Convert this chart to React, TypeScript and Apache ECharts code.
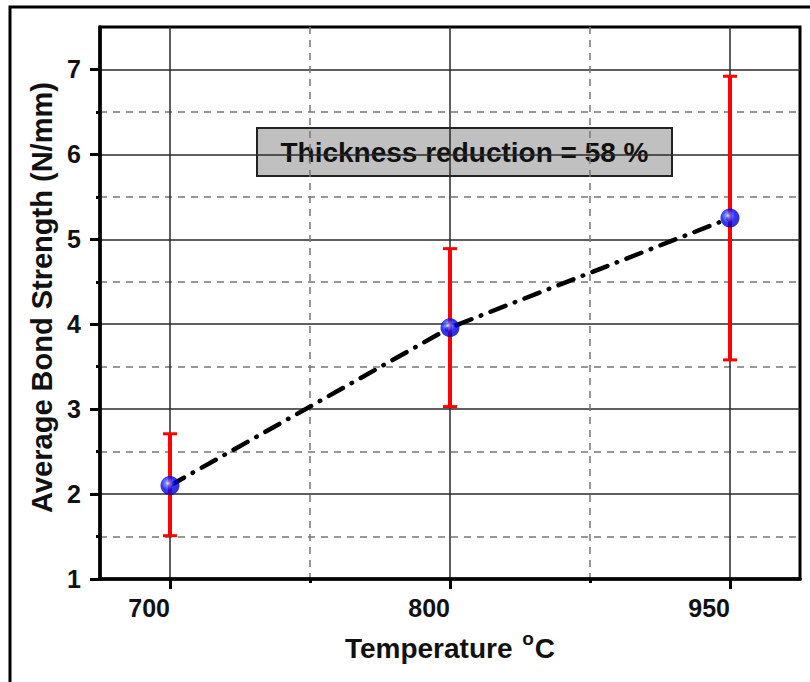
import React, { useEffect, useRef } from 'react';
import * as echarts from 'echarts';

const categories = ['700', '800', '950'];
const xPositions = [0, 1, 2];
const xMinorPositions = [0.5, 1.5];
const meanStrength = [2.1, 3.96, 5.25];
const upperStrength = [2.71, 4.89, 6.92];
const lowerStrength = [1.51, 3.03, 3.58];
const yMajorTicks = [1, 2, 3, 4, 5, 6, 7];
const yMinorTicks = [1.5, 2.5, 3.5, 4.5, 5.5, 6.5];
const annotationText = 'Thickness reduction = 58 %';
const xTitle = 'Temperature {sup|o}C';
const yTitle = 'Average Bond Strength (N/mm)';

const FONT = '"Liberation Sans", Arial, sans-serif';

export default function App() {
  const ref = useRef<HTMLDivElement>(null);

  useEffect(() => {
    if (!ref.current) return;
    const chart = echarts.init(ref.current, null, { renderer: 'svg' });

    const gridRect = { left: 100, right: 10, top: 27, bottom: 103 };
    const majorLine = { color: '#2a2a2a', width: 1.5, type: 'solid' as const };
    const minorLine = { color: '#777', width: 1.5, type: [7, 6] as any };

    const option: any = {
      animation: false,
      backgroundColor: '#fff',
      grid: [
        { ...gridRect, show: true, borderColor: '#000', borderWidth: 3, backgroundColor: 'transparent' },
        { ...gridRect, show: false },
      ],
      xAxis: [
        {
          gridIndex: 0,
          type: 'value',
          min: -0.25,
          max: 2.25,
          position: 'bottom',
          axisLine: { show: true, onZero: false, lineStyle: { color: '#000', width: 3.5 } },
          axisTick: { show: true, customValues: xPositions, length: 10, lineStyle: { color: '#000', width: 3 } },
          axisLabel: {
            show: true,
            formatter: (v: number) => {
              const i = xPositions.indexOf(v);
              return i >= 0 ? categories[i] : '';
            },
            showMinLabel: true,
            showMaxLabel: true,
            hideOverlap: false,
            align: 'right',
            margin: 16,
            fontSize: 25,
            fontWeight: 'bold',
            fontFamily: FONT,
            color: '#111',
          },
          splitLine: { show: true, lineStyle: majorLine },
          name: xTitle,
          nameLocation: 'middle',
          nameGap: 50,
          nameTextStyle: {
            fontSize: 28,
            fontWeight: 'bold',
            fontFamily: FONT,
            color: '#111',
            rich: {
              sup: { fontSize: 19, fontWeight: 'bold', fontFamily: FONT, color: '#111', verticalAlign: 'top', padding: [0, 1, 20, 2] },
            },
          },
        },
        {
          gridIndex: 1,
          type: 'value',
          min: -0.25,
          max: 2.25,
          position: 'bottom',
          axisLine: { show: false, onZero: false },
          axisTick: { show: true, customValues: xMinorPositions, length: 4, lineStyle: { color: '#000', width: 3 } },
          axisLabel: { show: false },
          splitLine: { show: true, lineStyle: minorLine },
        },
      ],
      yAxis: [
        {
          gridIndex: 0,
          type: 'value',
          min: 1,
          max: 7.5,
          interval: 1,
          position: 'left',
          axisLine: { show: true, onZero: false, lineStyle: { color: '#000', width: 3.5 } },
          axisTick: { show: true, customValues: yMajorTicks, length: 10, lineStyle: { color: '#000', width: 3 } },
          axisLabel: {
            show: true,
            formatter: (v: number) => (yMajorTicks.indexOf(v) >= 0 ? String(v) : ''),
            showMinLabel: true,
            showMaxLabel: true,
            margin: 19,
            fontSize: 25,
            fontWeight: 'bold',
            fontFamily: FONT,
            color: '#111',
          },
          splitLine: { show: true, lineStyle: majorLine },
          name: yTitle,
          nameLocation: 'middle',
          nameGap: 40,
          nameTextStyle: { fontSize: 29, fontWeight: 'bold', fontFamily: FONT, color: '#111', padding: [0, 0, 0, 11] },
        },
        {
          gridIndex: 1,
          type: 'value',
          min: 1,
          max: 7.5,
          interval: 1,
          position: 'left',
          axisLine: { show: false, onZero: false },
          axisTick: { show: true, customValues: yMinorTicks, length: 4, lineStyle: { color: '#000', width: 3 } },
          axisLabel: { show: false },
          splitLine: { show: true, lineStyle: minorLine },
        },
      ],
      series: [
        {
          type: 'line',
          xAxisIndex: 0,
          yAxisIndex: 0,
          data: xPositions.map((x, i) => [x, meanStrength[i]]),
          showSymbol: false,
          symbol: 'none',
          lineStyle: { color: '#000', width: 4.5, type: [16, 10, 0.5, 10], cap: 'round' },
          z: 3,
        },
        {
          type: 'custom',
          xAxisIndex: 0,
          yAxisIndex: 0,
          data: xPositions.map((x, i) => [x, lowerStrength[i], upperStrength[i]]),
          encode: { x: 0, y: [1, 2] },
          z: 4,
          renderItem: (params: any, api: any) => {
            const x = api.value(0);
            const lo = api.coord([x, api.value(1)]);
            const hi = api.coord([x, api.value(2)]);
            const half = 7;
            const style = { stroke: '#ff0000', lineWidth: 4 };
            return {
              type: 'group',
              children: [
                { type: 'line', shape: { x1: lo[0], y1: lo[1], x2: hi[0], y2: hi[1] }, style },
                { type: 'line', shape: { x1: hi[0] - half, y1: hi[1], x2: hi[0] + half, y2: hi[1] }, style: { stroke: '#ff0000', lineWidth: 3 } },
                { type: 'line', shape: { x1: lo[0] - half, y1: lo[1], x2: lo[0] + half, y2: lo[1] }, style: { stroke: '#ff0000', lineWidth: 3 } },
              ],
            };
          },
        },
        {
          type: 'scatter',
          xAxisIndex: 0,
          yAxisIndex: 0,
          data: xPositions.map((x, i) => [x, meanStrength[i]]),
          symbol: 'circle',
          symbolSize: 19,
          itemStyle: {
            color: {
              type: 'radial',
              x: 0.4,
              y: 0.38,
              r: 0.65,
              colorStops: [
                { offset: 0, color: '#eef0ff' },
                { offset: 0.18, color: '#6080ff' },
                { offset: 0.55, color: '#0000ff' },
                { offset: 1, color: '#0000a8' },
              ],
            },
          },
          z: 5,
        },
      ],
      graphic: [
        {
          type: 'rect',
          shape: { x: 10, y: 7, width: 900, height: 900 },
          style: { fill: 'none', stroke: '#000', lineWidth: 3 },
          silent: true,
          z: 10,
        },
        {
          type: 'group',
          z: 20,
          children: [
            {
              type: 'rect',
              shape: { x: 257, y: 128, width: 415, height: 48 },
              style: { fill: '#c0c0c0', stroke: '#222', lineWidth: 2 },
            },
            {
              type: 'text',
              x: 464.5,
              y: 152,
              style: {
                text: annotationText,
                fill: '#111',
                fontSize: 28,
                fontWeight: 'bold',
                fontFamily: FONT,
                align: 'center',
                verticalAlign: 'middle',
              },
            },
          ],
        },
      ],
    };

    chart.setOption(option);
    return () => chart.dispose();
  }, []);

  return (
    <div
      ref={ref}
      style={{ position: 'fixed', left: 0, top: 0, width: 810, height: 682, background: '#fff' }}
    />
  );
}
